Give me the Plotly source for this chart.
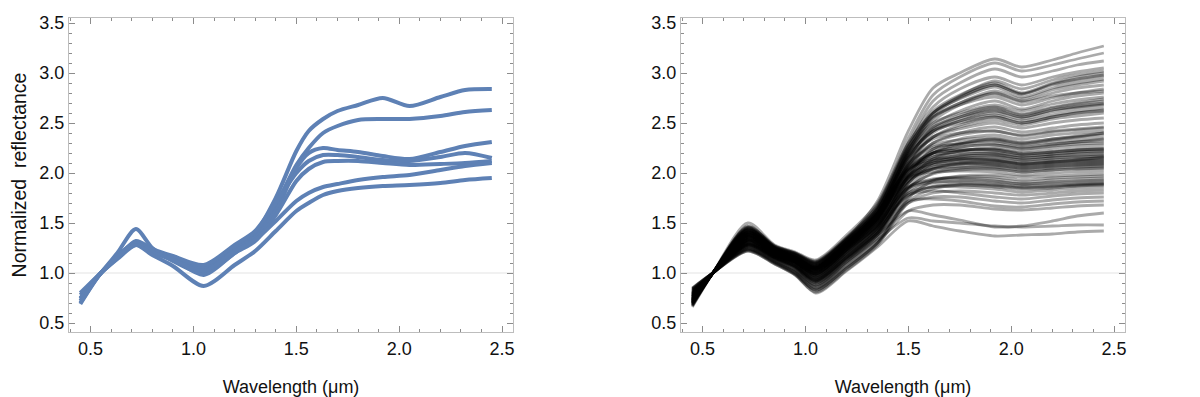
import plotly.graph_objects as go
from plotly.subplots import make_subplots

# ---------------- data ----------------
# Left panel: wavelengths (µm) at which spectra are sampled
left_wavelength = [0.45, 0.55, 0.63, 0.72, 0.80, 0.90, 1.05, 1.20, 1.30, 1.40,
                   1.50, 1.56, 1.63, 1.70, 1.80, 1.92, 2.05, 2.20, 2.32, 2.45]
blue_a = [0.72, 1.0, 1.15, 1.30, 1.22, 1.15, 1.05, 1.25, 1.40, 1.75, 2.22, 2.42, 2.54, 2.62, 2.68, 2.75, 2.67, 2.76, 2.83, 2.84]
blue_b = [0.75, 1.0, 1.20, 1.44, 1.25, 1.12, 1.00, 1.20, 1.36, 1.68, 2.08, 2.25, 2.40, 2.47, 2.53, 2.54, 2.54, 2.57, 2.61, 2.63]
blue_c = [0.78, 1.0, 1.14, 1.28, 1.22, 1.16, 1.04, 1.24, 1.35, 1.62, 2.05, 2.20, 2.25, 2.23, 2.21, 2.17, 2.14, 2.21, 2.27, 2.31]
blue_d = [0.80, 1.0, 1.15, 1.32, 1.24, 1.17, 1.08, 1.28, 1.42, 1.70, 2.00, 2.12, 2.18, 2.18, 2.16, 2.13, 2.12, 2.16, 2.20, 2.15]
blue_e = [0.70, 1.0, 1.16, 1.31, 1.23, 1.14, 0.98, 1.20, 1.32, 1.58, 1.92, 2.04, 2.11, 2.12, 2.12, 2.10, 2.08, 2.09, 2.10, 2.12]
blue_f = [0.74, 1.0, 1.17, 1.30, 1.21, 1.13, 1.02, 1.22, 1.33, 1.52, 1.72, 1.80, 1.86, 1.89, 1.93, 1.96, 1.98, 2.03, 2.07, 2.10]
blue_g = [0.69, 1.0, 1.16, 1.28, 1.18, 1.07, 0.87, 1.08, 1.22, 1.42, 1.62, 1.70, 1.78, 1.82, 1.85, 1.87, 1.88, 1.90, 1.93, 1.95]
left_spectra = [blue_a, blue_b, blue_c, blue_d, blue_e, blue_f, blue_g]

# Right panel
right_wavelength = [0.45, 0.55, 0.72, 0.85, 0.95, 1.05, 1.20, 1.35,
                    1.50, 1.62, 1.75, 1.92, 2.05, 2.20, 2.32, 2.45]
right_high = [
    [0.68, 1.0, 1.44, 1.26, 1.19, 1.10, 1.34, 1.72, 2.42, 2.85, 3.00, 3.14, 3.06, 3.13, 3.20, 3.27],
    [0.70, 1.0, 1.40, 1.24, 1.16, 1.06, 1.30, 1.66, 2.35, 2.78, 2.96, 3.10, 3.02, 3.08, 3.14, 3.20],
    [0.67, 1.0, 1.46, 1.27, 1.20, 1.12, 1.36, 1.68, 2.30, 2.72, 2.90, 3.04, 2.96, 3.02, 3.08, 3.12],
    [0.72, 1.0, 1.38, 1.22, 1.15, 1.05, 1.28, 1.62, 2.28, 2.66, 2.84, 2.96, 2.88, 2.96, 3.01, 3.05],
    [0.72, 1.0, 1.39, 1.23, 1.15, 1.05, 1.29, 1.60, 2.23, 2.60, 2.77, 2.92, 2.84, 2.93, 2.98, 3.02],
    [0.69, 1.0, 1.43, 1.25, 1.18, 1.08, 1.33, 1.64, 2.25, 2.62, 2.78, 2.90, 2.80, 2.90, 2.96, 3.00],
    [0.74, 1.0, 1.36, 1.21, 1.13, 1.02, 1.26, 1.58, 2.22, 2.58, 2.75, 2.88, 2.79, 2.89, 2.94, 2.98],
    [0.70, 1.0, 1.43, 1.25, 1.17, 1.07, 1.31, 1.63, 2.26, 2.60, 2.76, 2.88, 2.79, 2.88, 2.93, 2.97],
    [0.66, 1.0, 1.50, 1.28, 1.21, 1.13, 1.38, 1.70, 2.30, 2.60, 2.74, 2.86, 2.76, 2.85, 2.90, 2.94],
    [0.73, 1.0, 1.37, 1.22, 1.14, 1.03, 1.27, 1.58, 2.20, 2.55, 2.70, 2.82, 2.74, 2.83, 2.88, 2.92],
    [0.71, 1.0, 1.41, 1.24, 1.16, 1.07, 1.31, 1.60, 2.20, 2.52, 2.68, 2.80, 2.72, 2.80, 2.85, 2.88],
    [0.67, 1.0, 1.47, 1.27, 1.20, 1.11, 1.35, 1.67, 2.27, 2.56, 2.68, 2.76, 2.68, 2.75, 2.80, 2.84],
    [0.69, 1.0, 1.45, 1.26, 1.19, 1.10, 1.34, 1.65, 2.22, 2.56, 2.70, 2.79, 2.71, 2.77, 2.80, 2.82],
    [0.75, 1.0, 1.35, 1.20, 1.12, 1.00, 1.24, 1.55, 2.18, 2.48, 2.62, 2.72, 2.64, 2.72, 2.77, 2.80],
    [0.68, 1.0, 1.45, 1.26, 1.19, 1.10, 1.34, 1.66, 2.24, 2.50, 2.60, 2.68, 2.62, 2.69, 2.73, 2.76],
    [0.75, 1.0, 1.34, 1.20, 1.12, 1.00, 1.24, 1.54, 2.14, 2.45, 2.58, 2.66, 2.59, 2.66, 2.70, 2.74],
    [0.73, 1.0, 1.37, 1.22, 1.14, 1.04, 1.28, 1.57, 2.15, 2.44, 2.56, 2.65, 2.58, 2.65, 2.69, 2.72],
    [0.70, 1.0, 1.42, 1.24, 1.17, 1.07, 1.31, 1.62, 2.20, 2.46, 2.56, 2.63, 2.56, 2.63, 2.67, 2.70],
    [0.71, 1.0, 1.41, 1.24, 1.16, 1.06, 1.30, 1.60, 2.16, 2.42, 2.54, 2.62, 2.56, 2.63, 2.66, 2.69],
    [0.77, 1.0, 1.32, 1.18, 1.10, 0.97, 1.21, 1.50, 2.10, 2.40, 2.52, 2.60, 2.54, 2.61, 2.65, 2.68],
    [0.72, 1.0, 1.39, 1.23, 1.15, 1.05, 1.29, 1.59, 2.16, 2.42, 2.52, 2.58, 2.52, 2.58, 2.62, 2.65],
    [0.76, 1.0, 1.33, 1.19, 1.11, 0.99, 1.23, 1.52, 2.08, 2.36, 2.48, 2.56, 2.50, 2.56, 2.60, 2.63],
    [0.69, 1.0, 1.44, 1.25, 1.18, 1.09, 1.33, 1.63, 2.18, 2.42, 2.50, 2.56, 2.50, 2.56, 2.60, 2.62],
    [0.74, 1.0, 1.36, 1.21, 1.13, 1.02, 1.26, 1.54, 2.10, 2.36, 2.46, 2.53, 2.48, 2.54, 2.57, 2.60],
]
right_mid = [
    [0.71, 1.0, 1.40, 1.24, 1.16, 1.06, 1.30, 1.60, 2.12, 2.36, 2.44, 2.50, 2.45, 2.50, 2.53, 2.55],
    [0.76, 1.0, 1.33, 1.19, 1.11, 0.99, 1.23, 1.52, 2.05, 2.30, 2.40, 2.46, 2.41, 2.45, 2.48, 2.50],
    [0.73, 1.0, 1.38, 1.22, 1.14, 1.03, 1.27, 1.56, 2.08, 2.30, 2.38, 2.42, 2.38, 2.42, 2.44, 2.46],
    [0.68, 1.0, 1.46, 1.27, 1.20, 1.11, 1.35, 1.64, 2.15, 2.34, 2.40, 2.42, 2.37, 2.41, 2.43, 2.45],
    [0.78, 1.0, 1.30, 1.17, 1.09, 0.96, 1.19, 1.46, 1.98, 2.24, 2.34, 2.38, 2.34, 2.38, 2.40, 2.42],
    [0.72, 1.0, 1.40, 1.23, 1.15, 1.05, 1.29, 1.58, 2.06, 2.24, 2.30, 2.33, 2.29, 2.33, 2.36, 2.40],
    [0.78, 1.0, 1.30, 1.17, 1.09, 0.95, 1.18, 1.45, 1.97, 2.20, 2.29, 2.34, 2.30, 2.34, 2.37, 2.40],
    [0.72, 1.0, 1.39, 1.23, 1.15, 1.05, 1.29, 1.58, 2.08, 2.28, 2.33, 2.35, 2.31, 2.34, 2.36, 2.38],
    [0.75, 1.0, 1.35, 1.20, 1.12, 1.01, 1.25, 1.53, 2.02, 2.22, 2.29, 2.32, 2.28, 2.31, 2.33, 2.35],
    [0.75, 1.0, 1.35, 1.20, 1.12, 1.01, 1.25, 1.52, 2.00, 2.20, 2.26, 2.28, 2.25, 2.28, 2.31, 2.34],
    [0.70, 1.0, 1.42, 1.25, 1.17, 1.08, 1.32, 1.61, 2.10, 2.26, 2.29, 2.30, 2.26, 2.29, 2.31, 2.32],
    [0.74, 1.0, 1.36, 1.21, 1.13, 1.02, 1.26, 1.54, 2.02, 2.20, 2.26, 2.28, 2.24, 2.27, 2.29, 2.30],
    [0.80, 1.0, 1.28, 1.15, 1.06, 0.92, 1.15, 1.42, 1.92, 2.14, 2.22, 2.25, 2.22, 2.25, 2.27, 2.28],
    [0.74, 1.0, 1.37, 1.21, 1.13, 1.03, 1.27, 1.55, 2.04, 2.20, 2.23, 2.24, 2.20, 2.22, 2.24, 2.25],
    [0.71, 1.0, 1.41, 1.24, 1.16, 1.07, 1.31, 1.59, 2.06, 2.20, 2.23, 2.23, 2.19, 2.21, 2.23, 2.24],
    [0.78, 1.0, 1.31, 1.17, 1.09, 0.95, 1.19, 1.46, 1.96, 2.16, 2.22, 2.23, 2.19, 2.21, 2.23, 2.24],
    [0.77, 1.0, 1.32, 1.18, 1.10, 0.97, 1.21, 1.48, 1.95, 2.12, 2.18, 2.20, 2.17, 2.19, 2.21, 2.22],
    [0.71, 1.0, 1.41, 1.24, 1.16, 1.06, 1.30, 1.58, 2.04, 2.18, 2.21, 2.21, 2.17, 2.19, 2.21, 2.22],
    [0.73, 1.0, 1.38, 1.22, 1.14, 1.04, 1.28, 1.56, 2.02, 2.16, 2.19, 2.19, 2.15, 2.17, 2.19, 2.20],
    [0.81, 1.0, 1.27, 1.14, 1.05, 0.90, 1.13, 1.40, 1.90, 2.10, 2.16, 2.18, 2.15, 2.17, 2.18, 2.19],
    [0.79, 1.0, 1.29, 1.16, 1.07, 0.94, 1.17, 1.44, 1.90, 2.08, 2.14, 2.16, 2.13, 2.15, 2.16, 2.17],
    [0.76, 1.0, 1.33, 1.19, 1.11, 0.98, 1.22, 1.49, 1.97, 2.13, 2.17, 2.17, 2.13, 2.15, 2.16, 2.17],
    [0.70, 1.0, 1.43, 1.25, 1.18, 1.09, 1.33, 1.60, 2.03, 2.12, 2.14, 2.13, 2.09, 2.11, 2.13, 2.16],
    [0.70, 1.0, 1.43, 1.25, 1.18, 1.09, 1.33, 1.60, 2.04, 2.14, 2.15, 2.14, 2.11, 2.13, 2.14, 2.15],
    [0.75, 1.0, 1.34, 1.20, 1.12, 1.00, 1.24, 1.50, 1.96, 2.10, 2.13, 2.13, 2.10, 2.12, 2.13, 2.14],
    [0.73, 1.0, 1.38, 1.22, 1.14, 1.04, 1.28, 1.55, 1.99, 2.10, 2.12, 2.12, 2.09, 2.11, 2.12, 2.13],
    [0.79, 1.0, 1.29, 1.16, 1.07, 0.93, 1.16, 1.43, 1.90, 2.05, 2.10, 2.11, 2.08, 2.10, 2.11, 2.12],
    [0.82, 1.0, 1.26, 1.13, 1.03, 0.88, 1.11, 1.38, 1.86, 2.04, 2.09, 2.10, 2.07, 2.09, 2.10, 2.11],
    [0.72, 1.0, 1.40, 1.23, 1.15, 1.05, 1.29, 1.56, 1.98, 2.08, 2.10, 2.09, 2.06, 2.08, 2.09, 2.10],
    [0.77, 1.0, 1.32, 1.18, 1.10, 0.97, 1.21, 1.47, 1.93, 2.06, 2.09, 2.08, 2.05, 2.07, 2.08, 2.09],
    [0.76, 1.0, 1.33, 1.19, 1.11, 0.99, 1.23, 1.48, 1.92, 2.04, 2.07, 2.07, 2.04, 2.06, 2.07, 2.08],
    [0.82, 1.0, 1.25, 1.12, 1.02, 0.87, 1.10, 1.36, 1.84, 2.00, 2.05, 2.06, 2.03, 2.05, 2.06, 2.07],
    [0.80, 1.0, 1.28, 1.15, 1.06, 0.91, 1.14, 1.40, 1.85, 1.99, 2.03, 2.04, 2.01, 2.03, 2.04, 2.05],
    [0.74, 1.0, 1.36, 1.21, 1.13, 1.02, 1.26, 1.52, 1.96, 2.04, 2.05, 2.04, 2.01, 2.03, 2.04, 2.05],
    [0.73, 1.0, 1.38, 1.22, 1.14, 1.04, 1.28, 1.54, 1.95, 2.01, 2.02, 2.01, 1.98, 2.00, 2.01, 2.02],
    [0.84, 1.0, 1.23, 1.10, 0.99, 0.83, 1.05, 1.30, 1.75, 1.92, 1.97, 1.98, 1.96, 1.97, 1.98, 1.99],
]
right_low = [
    [0.80, 1.0, 1.28, 1.15, 1.06, 0.91, 1.14, 1.40, 1.82, 1.93, 1.96, 1.96, 1.93, 1.95, 1.96, 1.97],
    [0.77, 1.0, 1.31, 1.17, 1.09, 0.96, 1.20, 1.45, 1.86, 1.94, 1.95, 1.94, 1.91, 1.93, 1.94, 1.95],
    [0.76, 1.0, 1.33, 1.19, 1.11, 0.99, 1.23, 1.48, 1.86, 1.93, 1.94, 1.92, 1.89, 1.91, 1.92, 1.93],
    [0.81, 1.0, 1.27, 1.14, 1.05, 0.90, 1.13, 1.38, 1.80, 1.90, 1.92, 1.91, 1.89, 1.90, 1.91, 1.92],
    [0.74, 1.0, 1.36, 1.21, 1.13, 1.02, 1.26, 1.50, 1.85, 1.91, 1.91, 1.89, 1.87, 1.88, 1.89, 1.90],
    [0.83, 1.0, 1.24, 1.11, 1.01, 0.85, 1.07, 1.32, 1.76, 1.87, 1.89, 1.88, 1.86, 1.87, 1.88, 1.89],
    [0.84, 1.0, 1.23, 1.10, 0.99, 0.83, 1.05, 1.30, 1.72, 1.84, 1.88, 1.87, 1.85, 1.86, 1.88, 1.89],
    [0.79, 1.0, 1.29, 1.16, 1.07, 0.93, 1.16, 1.42, 1.78, 1.86, 1.88, 1.86, 1.84, 1.85, 1.87, 1.88],
    [0.78, 1.0, 1.30, 1.16, 1.08, 0.94, 1.18, 1.42, 1.80, 1.86, 1.86, 1.84, 1.81, 1.83, 1.85, 1.86],
    [0.85, 1.0, 1.22, 1.09, 0.98, 0.81, 1.03, 1.28, 1.70, 1.80, 1.82, 1.80, 1.78, 1.80, 1.82, 1.83],
    [0.76, 1.0, 1.33, 1.19, 1.11, 0.99, 1.23, 1.46, 1.78, 1.82, 1.80, 1.76, 1.74, 1.77, 1.79, 1.80],
    [0.82, 1.0, 1.26, 1.13, 1.03, 0.88, 1.11, 1.35, 1.70, 1.76, 1.76, 1.72, 1.70, 1.73, 1.75, 1.76],
    [0.79, 1.0, 1.29, 1.16, 1.07, 0.93, 1.16, 1.40, 1.72, 1.74, 1.72, 1.67, 1.66, 1.69, 1.71, 1.72],
    [0.84, 1.0, 1.24, 1.11, 1.00, 0.84, 1.06, 1.30, 1.62, 1.68, 1.68, 1.64, 1.63, 1.65, 1.67, 1.68],
    [0.80, 1.0, 1.28, 1.15, 1.06, 0.92, 1.15, 1.38, 1.62, 1.58, 1.53, 1.46, 1.47, 1.52, 1.57, 1.60],
    [0.83, 1.0, 1.25, 1.12, 1.02, 0.86, 1.09, 1.33, 1.55, 1.52, 1.50, 1.47, 1.46, 1.47, 1.48, 1.48],
    [0.85, 1.0, 1.22, 1.09, 0.98, 0.80, 1.02, 1.26, 1.52, 1.47, 1.42, 1.37, 1.38, 1.39, 1.41, 1.42],
]
right_spectra = right_high + right_mid + right_low

x_ticks = [0.5, 1.0, 1.5, 2.0, 2.5]
y_ticks = [0.5, 1.0, 1.5, 2.0, 2.5, 3.0, 3.5]

# ---------------- figure ----------------
W, H = 1200, 397
fig = make_subplots(rows=1, cols=2)

for ys in left_spectra:
    fig.add_trace(go.Scatter(x=left_wavelength, y=ys, mode="lines",
                             line=dict(color="#5E81B5", width=4, shape="spline", smoothing=0.8),
                             showlegend=False, hoverinfo="skip"), row=1, col=1)

for ys in right_spectra:
    fig.add_trace(go.Scatter(x=right_wavelength, y=ys, mode="lines",
                             line=dict(color="black", width=2.8, shape="spline", smoothing=0.8),
                             opacity=0.33, showlegend=False, hoverinfo="skip"), row=1, col=2)

font_family = "Liberation Sans, Arial, sans-serif"
txt = "#111111"
axis_common = dict(
    showline=True, linecolor="#bdbdbd", linewidth=1, mirror="ticks",
    ticks="inside", ticklen=6, tickcolor="#8c8c8c", tickwidth=1,
    showgrid=False, zeroline=False, automargin=False,
    tickfont=dict(family=font_family, size=18, color=txt),
    minor=dict(ticks="inside", ticklen=3, tickcolor="#8c8c8c", dtick=0.1, showgrid=False),
)

ydom = [1 - 324 / H, 1 - 10 / H]
fig.update_xaxes(**axis_common, range=[0.395, 2.553], tickvals=x_ticks,
                 ticktext=[f"{v:.1f}" for v in x_ticks],
                 title=dict(text="Wavelength (μm)", font=dict(family=font_family, size=18, color=txt),
                            standoff=22))
fig.update_yaxes(**axis_common, range=[0.41, 3.55], tickvals=y_ticks,
                 ticktext=[f"{v:.1f}" for v in y_ticks], domain=ydom)
fig.update_xaxes(domain=[61 / W, 505 / W], row=1, col=1)
fig.update_xaxes(domain=[673 / W, 1117 / W], row=1, col=2)
fig.update_yaxes(title=dict(text="Normalized  reflectance",
                            font=dict(family=font_family, size=19.5, color=txt), standoff=10),
                 row=1, col=1)

# faint reference line at 1.0
for xr, yr in (("x", "y"), ("x2", "y2")):
    fig.add_shape(type="line", xref=f"{xr} domain", yref=yr, x0=0, x1=1, y0=1.0, y1=1.0,
                  line=dict(color="#e3e3e3", width=1), layer="below")

fig.update_layout(width=W, height=H, margin=dict(l=0, r=0, t=0, b=0),
                  plot_bgcolor="white", paper_bgcolor="white",
                  font=dict(family=font_family))

fig.write_html("out.html")
